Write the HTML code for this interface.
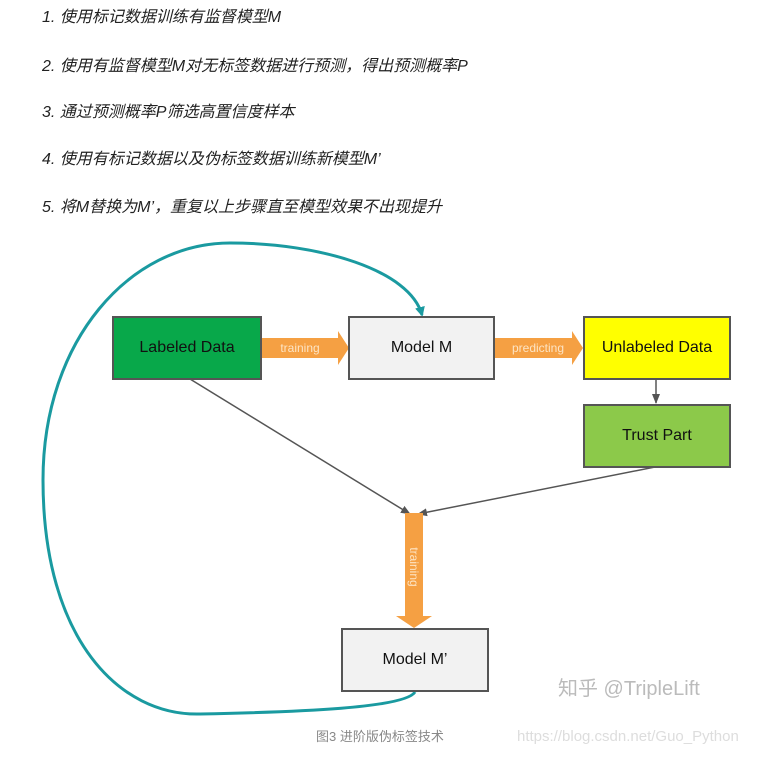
<!DOCTYPE html>
<html><head><meta charset="utf-8"><style>
body{margin:0;width:759px;height:757px;background:#fff;position:relative;overflow:hidden;font-family:"Liberation Sans","Noto Sans CJK SC",sans-serif}
.t{position:absolute;left:42px;font-size:16px;line-height:20px;font-style:italic;color:#222}
.b{position:absolute;box-sizing:border-box;border:2px solid #555;display:flex;align-items:center;justify-content:center;font-size:16px;color:#111}
</style></head><body>
<div class="t" style="top:8px">1. 使用标记数据训练有监督模型M</div>
<div class="t" style="top:57px">2. 使用有监督模型M对无标签数据进行预测，得出预测概率P</div>
<div class="t" style="top:103px">3. 通过预测概率P筛选高置信度样本</div>
<div class="t" style="top:150px">4. 使用有标记数据以及伪标签数据训练新模型M’</div>
<div class="t" style="top:198px">5. 将M替换为M’，重复以上步骤直至模型效果不出现提升</div>
<svg width="759" height="757" style="position:absolute;left:0;top:0">
<defs><marker id="a" markerUnits="userSpaceOnUse" markerWidth="10" markerHeight="10" refX="9" refY="5" orient="auto"><path d="M0,1 L10,5 L0,9z" fill="#555"/></marker>
<marker id="c" markerUnits="userSpaceOnUse" markerWidth="10" markerHeight="10" refX="8" refY="5" orient="auto"><path d="M0,0 L10,5 L0,10z" fill="#1a9aa0"/></marker></defs>
<line x1="190" y1="379" x2="410" y2="514" stroke="#555" stroke-width="1.5" marker-end="url(#a)"/>
<line x1="655" y1="467" x2="418" y2="514" stroke="#555" stroke-width="1.5" marker-end="url(#a)"/>
<line x1="656" y1="379" x2="656" y2="403" stroke="#555" stroke-width="1.5" marker-end="url(#a)"/>
<path d="M415,692 C405,708 300,712 200,714 C120,716 43,640 43,480 C43,340 130,243 230,243 C320,243 410,270 422,315" fill="none" stroke="#1a9aa0" stroke-width="3" marker-end="url(#c)"/>
<path d="M261,338 H338 V331 L349,348 L338,365 V358 H261z" fill="#f5a043"/>
<text x="300" y="352" font-size="12" fill="#fde4c4" text-anchor="middle">training</text>
<path d="M494,338 H572 V331 L583,348 L572,365 V358 H494z" fill="#f5a043"/>
<text x="538" y="352" font-size="12" fill="#fde4c4" text-anchor="middle">predicting</text>
<path d="M405,513 H423 V616 H432 L414,628 L396,616 H405z" fill="#f5a043"/>
<text x="0" y="0" font-size="12" fill="#fde4c4" text-anchor="middle" transform="translate(410,567) rotate(90)">training</text>
</svg>
<div class="b" style="left:112px;top:316px;width:150px;height:64px;background:#08a84a">Labeled Data</div>
<div class="b" style="left:348px;top:316px;width:147px;height:64px;background:#f2f2f2">Model M</div>
<div class="b" style="left:583px;top:316px;width:148px;height:64px;background:#ffff00">Unlabeled Data</div>
<div class="b" style="left:583px;top:404px;width:148px;height:64px;background:#8cc94a">Trust Part</div>
<div class="b" style="left:341px;top:628px;width:148px;height:64px;background:#f2f2f2">Model M’</div>
<div style="position:absolute;left:558px;top:672px;font-size:20px;color:#bbb">知乎 @TripleLift</div>
<div style="position:absolute;left:316px;top:726px;font-size:13px;color:#888">图3 进阶版伪标签技术</div>
<div style="position:absolute;left:517px;top:728px;font-size:15px;color:#ddd">https://blog.csdn.net/Guo_Python</div>
</body></html>
